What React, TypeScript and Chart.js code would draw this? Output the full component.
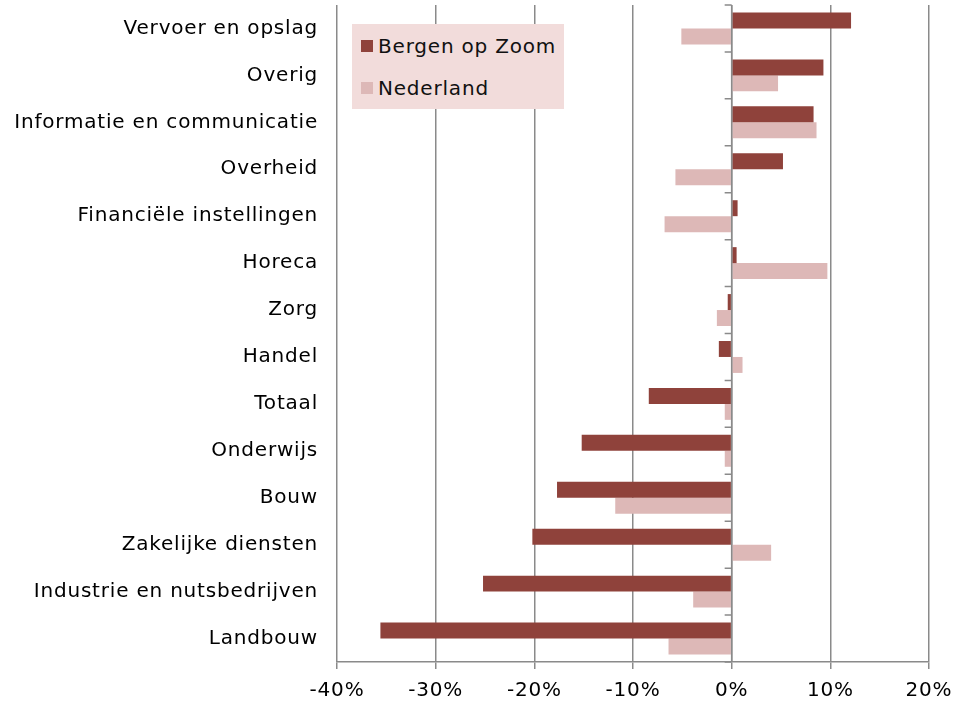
import React, { useEffect, useRef } from "react";
import Chart from "chart.js/auto";

const categories = [
  "Vervoer en opslag",
  "Overig",
  "Informatie en communicatie",
  "Overheid",
  "Financiële instellingen",
  "Horeca",
  "Zorg",
  "Handel",
  "Totaal",
  "Onderwijs",
  "Bouw",
  "Zakelijke diensten",
  "Industrie en nutsbedrijven",
  "Landbouw",
];
const bergenOpZoom = [12.1, 9.3, 8.3, 5.2, 0.6, 0.5, -0.4, -1.3, -8.4, -15.2, -17.7, -20.2, -25.2, -35.6];
const nederland = [-5.1, 4.7, 8.6, -5.7, -6.8, 9.7, -1.5, 1.1, -0.7, -0.7, -11.8, 4.0, -3.9, -6.4];
const seriesNames = ["Bergen op Zoom", "Nederland"];
const seriesColors = ["#8f423b", "#ddb8b7"];
const xMin = -40;
const xMax = 20;
const xStep = 10;

const FONT = "'DejaVu Sans', Verdana, sans-serif";
const GRID = "#8a8a8a";
const SPACING = "0.8px";

const spacingPlugin = {
  id: "spacingPlugin",
  beforeUpdate(chart: any) {
    chart.ctx.letterSpacing = SPACING;
  },
  beforeDraw(chart: any) {
    chart.ctx.letterSpacing = SPACING;
  },
};

const axisPlugin = {
  id: "axisPlugin",
  afterDatasetsDraw(chart: any) {
    const { ctx, scales } = chart;
    const x = scales.x;
    const y = scales.y;
    const x0 = x.getPixelForValue(0);
    ctx.save();
    ctx.strokeStyle = GRID;
    ctx.lineWidth = 1.5;
    ctx.beginPath();
    ctx.moveTo(x0, chart.chartArea.top);
    ctx.lineTo(x0, chart.chartArea.bottom);
    for (let i = 0; i <= categories.length; i++) {
      const py = y.getPixelForValue(i - 0.5);
      ctx.moveTo(x0 - 7, py);
      ctx.lineTo(x0, py);
    }
    ctx.stroke();
    ctx.restore();
  },
};

export default function App() {
  const ref = useRef<HTMLCanvasElement>(null);
  useEffect(() => {
    const chart = new Chart(ref.current!, {
      type: "bar",
      data: {
        labels: categories,
        datasets: [
          { label: seriesNames[0], data: bergenOpZoom, backgroundColor: seriesColors[0] },
          { label: seriesNames[1], data: nederland, backgroundColor: seriesColors[1] },
        ],
      },
      options: {
        indexAxis: "y",
        animation: false,
        responsive: false,
        maintainAspectRatio: false,
        layout: { padding: { top: 5, right: 26, bottom: 0, left: 0 } },
        datasets: { bar: { categoryPercentage: 0.68, barPercentage: 1 } },
        plugins: { legend: { display: false }, tooltip: { enabled: false } },
        scales: {
          x: {
            min: xMin,
            max: xMax,
            afterFit: (s: any) => {
              s.height = 42;
              s.paddingLeft = 0;
              s.paddingRight = 0;
            },
            ticks: {
              stepSize: xStep,
              color: "#000",
              font: { family: FONT, size: 20 },
              padding: 10,
              callback: (v: any) => `${v}%`,
            },
            grid: { color: GRID, lineWidth: 1.5, tickLength: 7, tickColor: GRID },
            border: { display: true, color: GRID, width: 1.5 },
          },
          y: {
            afterFit: (s: any) => {
              s.width = 337;
              s.paddingTop = 0;
              s.paddingBottom = 0;
            },
            ticks: {
              color: "#000",
              font: { family: FONT, size: 20 },
              padding: 19,
            },
            grid: { display: false, drawTicks: false },
            border: { display: false },
          },
        },
      },
      plugins: [spacingPlugin, axisPlugin],
    });
    return () => chart.destroy();
  }, []);

  return (
    <div style={{ position: "absolute", left: 0, top: 0, width: 955, height: 704, background: "#fff" }}>
      <canvas ref={ref} width={955} height={704} style={{ display: "block" }} />
      <div
        style={{
          position: "absolute",
          left: 352,
          top: 24,
          width: 212,
          height: 85,
          background: "#f2dcdb",
          fontFamily: FONT,
          fontSize: 20,
          letterSpacing: "0.8px",
          color: "#111",
        }}
      >
        {seriesNames.map((n, i) => (
          <div
            key={n}
            style={{
              position: "absolute",
              left: 9,
              top: 10 + i * 42,
              display: "flex",
              alignItems: "center",
              height: 24,
              whiteSpace: "nowrap",
            }}
          >
            <span style={{ display: "inline-block", width: 12, height: 12, background: seriesColors[i], marginRight: 5 }} />
            <span>{n}</span>
          </div>
        ))}
      </div>
    </div>
  );
}
